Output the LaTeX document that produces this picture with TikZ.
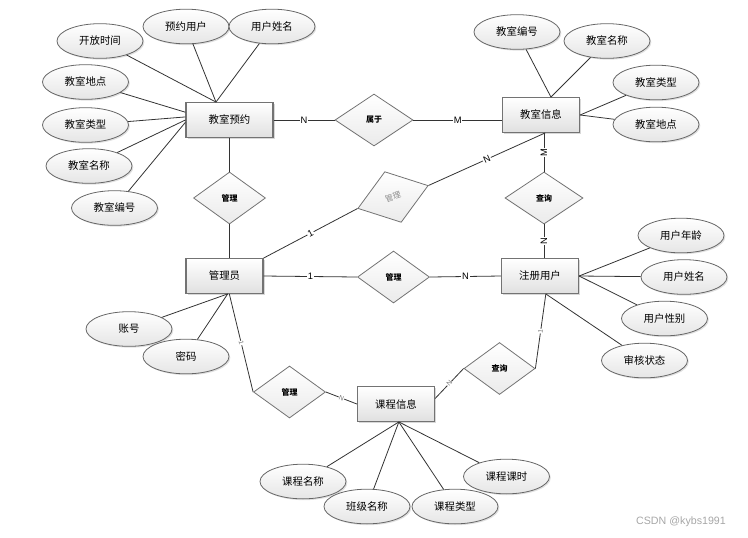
\documentclass[tikz,border=0pt]{standalone}
\usepackage{fontspec}
\setmainfont{Liberation Sans}
\newfontfamily\cjk{Noto Sans CJK SC}
\usetikzlibrary{positioning}
\usetikzlibrary{shapes.geometric}
\usetikzlibrary{shadows}
\tikzset{
	entity/.style={
		rectangle,
		draw=black!55, line width=0.9pt,
		top color=white,
		bottom color=black!12,
		minimum width=57.75pt,
		minimum height=26pt,
		inner sep=1pt,
		font=\cjk\fontsize{7.8}{9}\selectfont,
		drop shadow={shadow xshift=1.2pt, shadow yshift=-1.2pt, fill=black!30, opacity=0.5}},
	attr/.style={
		ellipse,
		draw=black!60, line width=0.6pt,
		top color=white,
		bottom color=black!10,
		minimum width=64.5pt,
		minimum height=26pt,
		inner sep=0pt,
		font=\cjk\fontsize{7.8}{9}\selectfont,
		drop shadow={shadow xshift=1pt, shadow yshift=-1pt, fill=black!30, opacity=0.4}},
	rel/.style={
		diamond,
		draw=black!55, line width=0.6pt,
		top color=white,
		bottom color=black!8,
		minimum width=54pt,
		minimum height=39pt,
		inner sep=0pt,
		font=\cjk\bfseries\fontsize{6}{7}\selectfont},
	link/.style={draw=black!80, line width=0.6pt},
	card/.style={fill=white, inner sep=0.6pt, font=\fontsize{7}{8}\selectfont},
	tinycard/.style={fill=white, inner sep=0.3pt, text=black!55, font=\fontsize{5}{6}\selectfont},
}
\begin{document}
\begin{tikzpicture}[x=0.75pt, y=-0.75pt]
	\useasboundingbox (0,0) rectangle (748,537);
	% entities
	\node[entity, minimum width=65.25pt] (yuyue) at (229.5,120) {教室预约};
	\node[entity] (jsxx) at (541,115) {教室信息};
	\node[entity] (gly) at (224.5,276) {管理员};
	\node[entity] (zcyh) at (540,276) {注册用户};
	\node[entity] (kcxx) at (396,404) {课程信息};
	% relations
	\node[rel, minimum width=58.5pt] (shuyu) at (374,120) {属于};
	\node[rel] (guanli1) at (229.5,198) {管理};
	\node[rel, rotate=18, minimum width=55.5pt, minimum height=40pt,
		text=black!45, font=\cjk\fontsize{6}{7}\selectfont] (guanli2) at (393,197) {管理};
	\node[rel, minimum width=58.5pt] (chaxun1) at (544,198) {查询};
	\node[rel] (guanli3) at (393.5,277) {管理};
	\node[rel] (guanli4) at (289.5,392) {管理};
	\node[rel, minimum width=53.25pt] (chaxun2) at (499.5,368.5) {查询};
	% attributes
	\node[attr] (kfsj) at (100,41) {开放时间};
	\node[attr] (yyyh) at (186,26.5) {预约用户};
	\node[attr] (yhxmA) at (272,26.5) {用户姓名};
	\node[attr] (jsddA) at (85.5,82) {教室地点};
	\node[attr] (jslxA) at (85.5,125) {教室类型};
	\node[attr] (jsmcA) at (89,166) {教室名称};
	\node[attr] (jsbhA) at (114.5,208) {教室编号};
	\node[attr] (jsbhB) at (517,32) {教室编号};
	\node[attr] (jsmcB) at (607,41) {教室名称};
	\node[attr] (jslxB) at (656,82.5) {教室类型};
	\node[attr] (jsddB) at (656,124.5) {教室地点};
	\node[attr] (yhnl) at (681,235.5) {用户年龄};
	\node[attr] (yhxmB) at (684,277) {用户姓名};
	\node[attr] (yhxb) at (664.5,318.5) {用户性别};
	\node[attr] (shzt) at (644.5,360.5) {审核状态};
	\node[attr] (zh) at (129,329) {账号};
	\node[attr] (mm) at (186,356.5) {密码};
	\node[attr] (kcmc) at (303,481.5) {课程名称};
	\node[attr] (bjmc) at (367,506.5) {班级名称};
	\node[attr] (kclx) at (455,506.5) {课程类型};
	\node[attr] (kcks) at (506.5,476.5) {课程课时};
	% attribute links
	\draw[link] (kfsj) -- (yuyue.127);
	\draw[link] (yyyh) -- (yuyue.127);
	\draw[link] (yhxmA) -- (yuyue.127);
	\draw[link] (jsddA) -- (yuyue.170);
	\draw[link] (jslxA) -- (yuyue.176);
	\draw[link] (jsmcA) -- (yuyue.180);
	\draw[link] (jsbhA) -- (yuyue.183);
	\draw[link] (jsbhB) -- (jsxx.61);
	\draw[link] (jsmcB) -- (jsxx.61);
	\draw[link] (jslxB) -- (jsxx.east);
	\draw[link] (jsddB) -- (jsxx.east);
	\draw[link] (yhnl) -- (zcyh.east);
	\draw[link] (yhxmB) -- (zcyh.east);
	\draw[link] (yhxb) -- (zcyh.east);
	\draw[link] (shzt) -- (zcyh.-72);
	\draw[link] (zh) -- (gly.-80);
	\draw[link] (mm) -- (gly.-80);
	\draw[link] (kcmc) -- (kcxx.-81);
	\draw[link] (bjmc) -- (kcxx.-81);
	\draw[link] (kclx) -- (kcxx.-81);
	\draw[link] (kcks) -- (kcxx.-81);
	% relation links
	\draw[link] (yuyue.east) -- node[card] {N} (shuyu.west);
	\draw[link] (shuyu.east) -- node[card] {M} (shuyu.east -| jsxx.west);
	\draw[link] (yuyue.south) -- (guanli1.north);
	\draw[link] (guanli1.south) -- (guanli1.south |- gly.north);
	\draw[link] (gly.north east) -- node[card, sloped] {1} (guanli2.west);
	\draw[link] (guanli2.east) -- node[card, sloped] {N} (jsxx.-77);
	\draw[link] (chaxun1.north) -- node[card, rotate=90] {M} (chaxun1.north |- jsxx.south);
	\draw[link] (chaxun1.south) -- node[card, rotate=90] {N} (chaxun1.south |- zcyh.north);
	\draw[link] (gly.east) -- node[card] {1} (guanli3.west);
	\draw[link] (guanli3.east) -- node[card] {N} (zcyh.west);
	\draw[link] (gly.-75) -- node[tinycard, sloped] {1} (guanli4.west);
	\draw[link] (guanli4.east) -- node[tinycard, sloped] {N} (kcxx.west);
	\draw[link] (kcxx.8) -- node[tinycard, sloped] {N} (chaxun2.west);
	\draw[link] (chaxun2.east) -- node[tinycard, sloped] {1} (zcyh.-72);
	% watermark
	\node[text=black!35, font=\fontsize{8}{9}\selectfont] (mark) at (681,522) {CSDN @kybs1991};
\end{tikzpicture}
\end{document}
